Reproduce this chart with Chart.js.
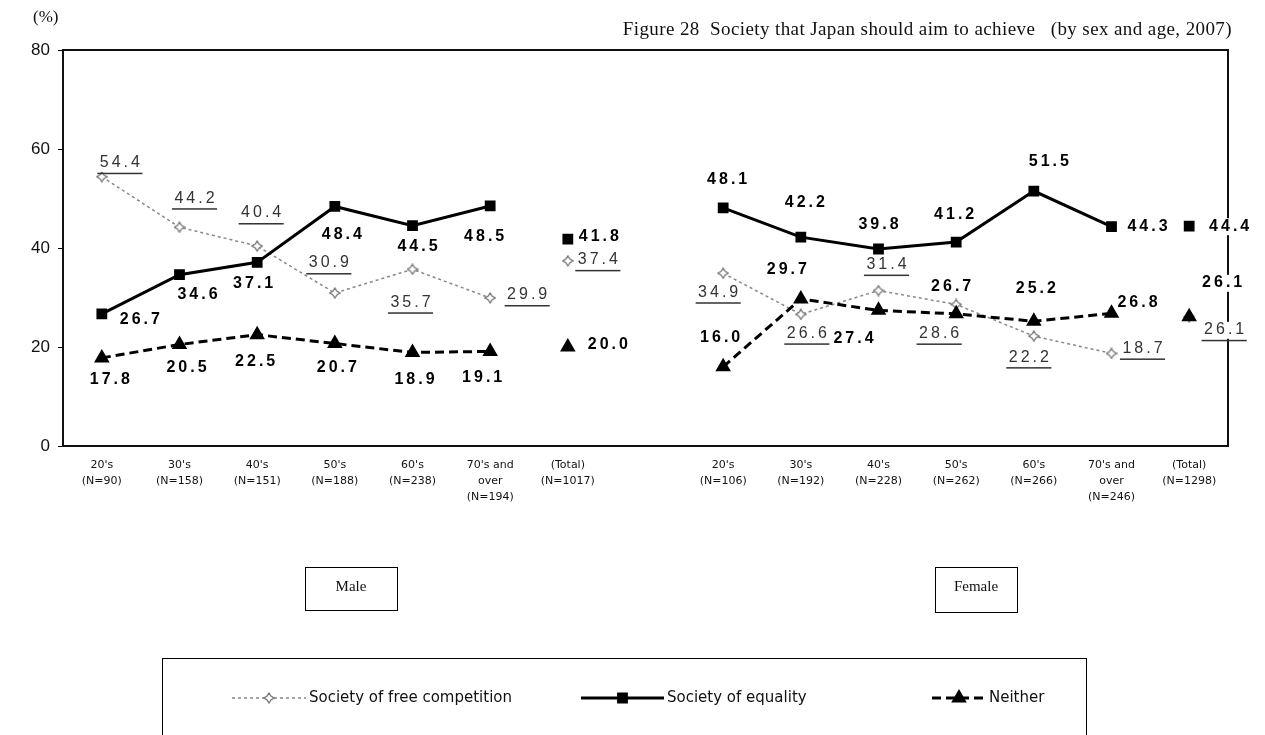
<!DOCTYPE html>
<html>
<head>
<meta charset="utf-8">
<title>Figure 28</title>
<script src="https://cdn.jsdelivr.net/npm/chart.js@4.4.0/dist/chart.umd.min.js"></script>
<style>
  html, body { margin: 0; padding: 0; background: #fff; }
  #wrap { position: relative; width: 1265px; height: 735px; }
</style>
</head>
<body>
<div id="wrap"><canvas id="chart" width="1265" height="735"></canvas></div>
<script>
// --- data ---
const maleLabels = [["20's", "(N=90)"], ["30's", "(N=158)"], ["40's", "(N=151)"], ["50's", "(N=188)"], ["60's", "(N=238)"], ["70's and", "over", "(N=194)"], ["(Total)", "(N=1017)"]];
const femaleLabels = [["20's", "(N=106)"], ["30's", "(N=192)"], ["40's", "(N=228)"], ["50's", "(N=262)"], ["60's", "(N=266)"], ["70's and", "over", "(N=246)"], ["(Total)", "(N=1298)"]];
const yTicks = [0, 20, 40, 60, 80];

const maleFree = [54.4, 44.2, 40.4, 30.9, 35.7, 29.9];
const maleEquality = [26.7, 34.6, 37.1, 48.4, 44.5, 48.5];
const maleNeither = [17.8, 20.5, 22.5, 20.7, 18.9, 19.1];
const femaleFree = [34.9, 26.6, 31.4, 28.6, 22.2, 18.7];
const femaleEquality = [48.1, 42.2, 39.8, 41.2, 51.5, 44.3];
const femaleNeither = [16.0, 29.7, 27.4, 26.7, 25.2, 26.8];
// totals: [male, female]
const freeTotal = [37.4, 26.1];
const equalityTotal = [41.8, 44.4];
const neitherTotal = [20.0, 26.1];

const seriesNames = ['Society of free competition', 'Society of equality', 'Neither'];

// --- label placement (px offset of text centre from its point), male 7 then female 7 ---
const freeLabelPos = [[18,-14],[15,-29],[4,-33],[-6,-30],[-2,33],[37,-3],[30,-1],
                      [-5,19],[6,19],[8,-26],[-17,29],[-5,21],[31,-5],[35,13]];
const equalityLabelPos = [[38,6],[18,20],[-4,21],[7,28],[5,21],[-6,31],[31,-2],
                          [4,-28],[4,-35],[0,-24],[-2,-27],[15,-29],[36,0],[40,0]];
const neitherLabelPos = [[8,22],[7,23],[-2,27],[2,24],[2,27],[-8,26],[40,-2],
                         [-3,-29],[-14,-29],[-25,28],[-5,-27],[2,-33],[26,-11],[33,-34]];

// categories: male block, one empty slot, female block
const categories = [...maleLabels, '', ...femaleLabels];
const femaleStart = maleLabels.length + 1;

function lineData(male, female) {
  return [...male, null, null, ...female, null];
}
function totalData(tot) {
  const d = categories.map(() => null);
  d[maleLabels.length - 1] = tot[0];
  d[categories.length - 1] = tot[1];
  return d;
}

// four-pointed hollow star marker
function makeStar(size, stroke) {
  const c = document.createElement('canvas');
  c.width = c.height = size;
  const g = c.getContext('2d');
  const h = size / 2, k = size * 0.16;
  g.beginPath();
  g.moveTo(h, 1); g.lineTo(h + k, h - k); g.lineTo(size - 1, h); g.lineTo(h + k, h + k);
  g.lineTo(h, size - 1); g.lineTo(h - k, h + k); g.lineTo(1, h); g.lineTo(h - k, h - k);
  g.closePath();
  g.fillStyle = '#fff'; g.fill();
  g.strokeStyle = stroke; g.lineWidth = 1.3; g.stroke();
  return c;
}
const starImg = makeStar(12, '#777');

const freeStyle = { borderColor: '#888', borderWidth: 1.5, borderDash: [3, 3], pointStyle: starImg };
const equalityStyle = { borderColor: '#000', borderWidth: 3, borderDash: [], pointStyle: 'rect', pointRadius: 5.5, pointBackgroundColor: '#000' };
const neitherStyle = { borderColor: '#000', borderWidth: 3, borderDash: [9, 5], pointStyle: 'triangle', pointRadius: 6, pointBackgroundColor: '#000' };

const datasets = [
  Object.assign({ label: seriesNames[0], data: lineData(maleFree, femaleFree), spanGaps: false, order: 3 }, freeStyle),
  Object.assign({ label: seriesNames[1], data: lineData(maleEquality, femaleEquality), spanGaps: false, order: 1 }, equalityStyle),
  Object.assign({ label: seriesNames[2], data: lineData(maleNeither, femaleNeither), spanGaps: false, order: 2 }, neitherStyle),
  Object.assign({ label: 'total-free', data: totalData(freeTotal), showLine: false, order: 6 }, freeStyle),
  Object.assign({ label: 'total-neither', data: totalData(neitherTotal), showLine: false, order: 0 }, neitherStyle),
  Object.assign({ label: 'total-equality', data: totalData(equalityTotal), showLine: false, order: 0 }, equalityStyle)
];

// plot frame
const framePlugin = {
  id: 'frame',
  beforeDatasetsDraw(chart) {
    const a = chart.chartArea, ctx = chart.ctx;
    ctx.save();
    ctx.strokeStyle = '#111';
    ctx.lineWidth = 2;
    ctx.strokeRect(a.left, a.top, a.right - a.left, a.bottom - a.top);
    ctx.restore();
  }
};

// data labels with white background (like the original)
function drawLabels(chart, male, female, tot, pos, bold) {
  const ctx = chart.ctx, xs = chart.scales.x, ys = chart.scales.y;
  const pts = [];
  male.forEach((v, i) => pts.push([i, v]));
  pts.push([maleLabels.length - 1, tot[0]]);
  female.forEach((v, i) => pts.push([femaleStart + i, v]));
  pts.push([categories.length - 1, tot[1]]);
  ctx.save();
  ctx.font = (bold ? 'bold ' : '') + '16px "Liberation Sans", Arial, sans-serif';
  ctx.letterSpacing = '3px';
  ctx.textAlign = 'center';
  ctx.textBaseline = 'middle';
  pts.forEach(([idx, v], j) => {
    const x = xs.getPixelForValue(idx) + pos[j][0];
    const y = ys.getPixelForValue(v) + pos[j][1];
    const txt = v.toFixed(1);
    const w = ctx.measureText(txt).width;
    ctx.fillStyle = '#fff';
    ctx.fillRect(x - w / 2, y - 8, w, 17);
    ctx.fillStyle = bold ? '#000' : '#333';
    ctx.fillText(txt, x + 1.5, y);
    if (!bold) {
      ctx.fillRect(x - w / 2 - 1, y + 10, w + 2, 1.5);
    }
  });
  ctx.restore();
}

const labelsPlugin = {
  id: 'valueLabels',
  afterDatasetsDraw(chart) {
    drawLabels(chart, maleFree, femaleFree, freeTotal, freeLabelPos, false);
    drawLabels(chart, maleEquality, femaleEquality, equalityTotal, equalityLabelPos, true);
    drawLabels(chart, maleNeither, femaleNeither, neitherTotal, neitherLabelPos, true);
  }
};

// title, unit, Male/Female boxes and legend
const extrasPlugin = {
  id: 'extras',
  afterDraw(chart) {
    const ctx = chart.ctx;
    ctx.save();
    ctx.fillStyle = '#111';
    ctx.font = '17px "Liberation Serif", "Times New Roman", serif';
    ctx.textBaseline = 'middle';
    ctx.textAlign = 'left';
    ctx.fillText('(%)', 33, 18);
    ctx.textAlign = 'right';
    ctx.font = '19px "Liberation Serif", "Times New Roman", serif';
    ctx.letterSpacing = '0.4px';
    ctx.fillText('Figure 28  Society that Japan should aim to achieve   (by sex and age, 2007)', 1232, 30);
    ctx.letterSpacing = '0px';

    // sex boxes
    ctx.lineWidth = 1;
    ctx.strokeStyle = '#000';
    ctx.font = '15px "Liberation Serif", "Times New Roman", serif';
    ctx.textAlign = 'center';
    [['Male', 305, 567, 92, 43], ['Female', 935, 567, 82, 45]].forEach(([t, x, y, w, h]) => {
      ctx.strokeRect(x + 0.5, y + 0.5, w, h);
      ctx.fillText(t, x + w / 2, y + 20);
    });

    // legend box
    ctx.strokeRect(162.5, 658.5, 924, 90);
    ctx.font = '15px "DejaVu Sans", sans-serif';
    ctx.textAlign = 'left';
    const ly = 698;
    const items = [
      { x0: 232, x1: 306, style: freeStyle },
      { x0: 581, x1: 664, style: equalityStyle },
      { x0: 932, x1: 986, style: neitherStyle }
    ];
    items.forEach((it, i) => {
      const s = it.style;
      ctx.strokeStyle = s.borderColor;
      ctx.lineWidth = s.borderWidth;
      ctx.setLineDash(s.borderDash);
      ctx.beginPath();
      ctx.moveTo(it.x0, ly); ctx.lineTo(it.x1, ly);
      ctx.stroke();
      ctx.setLineDash([]);
      const cx = (it.x0 + it.x1) / 2;
      if (i === 0) {
        ctx.drawImage(starImg, cx - 6, ly - 6);
      } else {
        Chart.helpers.drawPoint(ctx, { pointStyle: s.pointStyle, radius: s.pointRadius, borderWidth: 1 }, cx, ly);
        ctx.fillStyle = '#000';
        ctx.fill();
      }
      ctx.fillStyle = '#111';
      ctx.fillText(seriesNames[i], it.x1 + 3, ly);
    });
    ctx.restore();
  }
};

new Chart(document.getElementById('chart'), {
  type: 'line',
  data: { labels: categories, datasets: datasets },
  options: {
    responsive: false,
    animation: false,
    layout: { padding: { top: 50, right: 37, bottom: 0, left: 0 } },
    plugins: {
      legend: { display: false },
      tooltip: { enabled: false }
    },
    elements: {
      point: { radius: 6, borderWidth: 1, backgroundColor: '#fff', hoverRadius: 6 },
      line: { tension: 0, fill: false }
    },
    scales: {
      x: {
        type: 'category',
        offset: true,
        grid: { display: false },
        border: { display: false },
        ticks: {
          autoSkip: false,
          maxRotation: 0,
          padding: 3,
          color: '#111',
          font: { family: '"DejaVu Sans", sans-serif', size: 11, lineHeight: 1.45 }
        },
        afterFit(scale) { scale.height = 289; }
      },
      y: {
        min: 0,
        max: 80,
        afterBuildTicks(scale) { scale.ticks = yTicks.map(v => ({ value: v })); },
        grid: { drawOnChartArea: false, drawTicks: true, tickLength: 5, color: '#000' },
        border: { display: true, color: '#000', width: 2 },
        ticks: {
          padding: 8,
          color: '#111',
          font: { family: '"Liberation Sans", Arial, sans-serif', size: 17 }
        },
        afterFit(scale) { scale.width = 63; }
      }
    }
  },
  plugins: [framePlugin, labelsPlugin, extrasPlugin]
});
</script>
</body>
</html>
